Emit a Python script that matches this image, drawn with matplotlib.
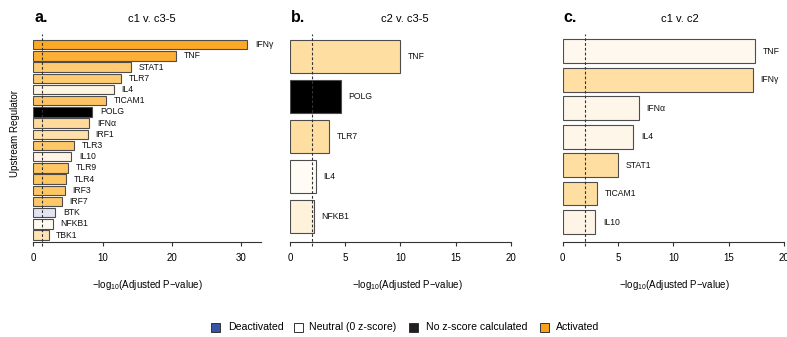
import matplotlib
matplotlib.use("Agg")
import matplotlib.pyplot as plt
from matplotlib.patches import Rectangle

plt.rcParams['font.family'] = ['Liberation Sans', 'DejaVu Sans']
plt.rcParams['mathtext.default'] = 'regular'

# panel a: c1 v. c3-5
a_names = ["IFNγ", "TNF", "STAT1", "TLR7", "IL4", "TICAM1", "POLG", "IFNα", "IRF1",
           "TLR3", "IL10", "TLR9", "TLR4", "IRF3", "IRF7", "BTK", "NFKB1", "TBK1"]
a_vals = [30.9, 20.6, 14.1, 12.65, 11.6, 10.5, 8.5, 8.1, 7.9,
          5.9, 5.5, 5.0, 4.7, 4.55, 4.1, 3.2, 2.8, 2.2]
a_colors = ["#FBA927", "#FDAF35", "#FECB72", "#FECB72", "#FFF4E2", "#FEC463", "#000000",
            "#FFDA9C", "#FFE0AA", "#FEC868", "#FFF4E6", "#FEC664", "#FEC766", "#FEC766",
            "#FEC868", "#E3E3F3", "#FFF9F2", "#FFE3B2"]

# panel b: c2 v. c3-5
b_names = ["TNF", "POLG", "TLR7", "IL4", "NFKB1"]
b_vals = [9.97, 4.6, 3.56, 2.33, 2.15]
b_colors = ["#FFDFA1", "#000000", "#FFDFA1", "#FFFCF5", "#FFF2DB"]

# panel c: c1 v. c2
c_names = ["TNF", "IFNγ", "IFNα", "IL4", "STAT1", "TICAM1", "IL10"]
c_vals = [17.35, 17.17, 6.88, 6.39, 5.03, 3.08, 2.95]
c_colors = ["#FFF8EE", "#FFDFA4", "#FFF6EA", "#FFF6EA", "#FFDEA2", "#FFDEA2", "#FFF5E6"]

legend_labels = ["Deactivated", "Neutral (0 z-score)", "No z-score calculated", "Activated"]
legend_colors = ["#3953A4", "#FFFFFF", "#231F20", "#F7A21B"]

W, H = 787, 337
fig = plt.figure(figsize=(W / 100, H / 100), dpi=100)


def fx(px):
    return px / W


def fy(py):
    return 1 - py / H


top_px, bot_px = 30, 242

# left px, right px, xmax, first bar centre px, pitch px, bar height, cutoff line, xticks
panels = [
    (a_names, a_vals, a_colors, 33.3, 261, 32.9, 44.7, 11.2, 0.85, 1.3, [0, 10, 20, 30],
     "a.", "c1 v. c3-5", 152, 147),
    (b_names, b_vals, b_colors, 290, 510.7, 20, 56.4, 40.0, 0.82, 2.0, [0, 5, 10, 15, 20],
     "b.", "c2 v. c3-5", 405, 407),
    (c_names, c_vals, c_colors, 562.7, 784, 20, 51.3, 28.45, 0.84, 2.0, [0, 5, 10, 15, 20],
     "c.", "c1 v. c2", 680, 674.5),
]

for (names, vals, cols, lpx, rpx, xmax, c0, pitch, bh, cut, ticks,
     letter, title, tx, lx) in panels:
    ax = fig.add_axes([fx(lpx), fy(bot_px), fx(rpx) - fx(lpx), fy(top_px) - fy(bot_px)])
    ypos = list(range(len(names)))
    ax.barh(ypos, vals, height=bh, color=cols, edgecolor="#4d4d4d", linewidth=0.8, zorder=2)
    for y, v, n in zip(ypos, vals, names):
        ax.annotate(n, (v, y), xytext=(5.5, 0), textcoords="offset points",
                    va="center", ha="left", fontsize=6.2, color="#111111")
    ax.set_xlim(0, xmax)
    ax.set_ylim((bot_px - c0) / pitch, (top_px - c0) / pitch)
    # significance cutoff
    ax.plot([cut, cut], [(246 - c0) / pitch, (34 - c0) / pitch], color="#333333",
            linestyle=(0, (2.5, 1.8)), linewidth=0.8, zorder=3, clip_on=False)
    for s in ["top", "right", "left"]:
        ax.spines[s].set_visible(False)
    ax.spines["bottom"].set_color("#333333")
    ax.spines["bottom"].set_linewidth(0.8)
    ax.set_yticks([])
    ax.set_xticks(ticks)
    ax.tick_params(axis="x", direction="out", length=3, width=0.8, color="#333333",
                   labelsize=7, pad=5)
    fig.text(fx(lpx + 1), fy(21.5), letter, fontsize=11.5, fontweight="bold",
             ha="left", va="baseline")
    fig.text(fx(tx), fy(18.5), title, fontsize=8, ha="center", va="center")
    fig.text(fx(lx), fy(284.5), "−log$_{10}$(Adjusted P−value)", fontsize=7,
             ha="center", va="center")

fig.text(fx(15), fy(133.5), "Upstream Regulator", fontsize=7, rotation=90,
         ha="center", va="center")

# legend
sq_x = [211, 294, 409, 539.5]
txt_x = [227.7, 309, 425.7, 556]
for sx, tx2, col, lab in zip(sq_x, txt_x, legend_colors, legend_labels):
    fig.add_artist(Rectangle((fx(sx), fy(331.5)), fx(9), 9 / H, facecolor=col,
                             edgecolor="#333333", linewidth=0.7, transform=fig.transFigure))
    fig.text(fx(tx2), fy(327), lab, fontsize=7.6, ha="left", va="center")

fig.savefig("out.png", dpi=100)
